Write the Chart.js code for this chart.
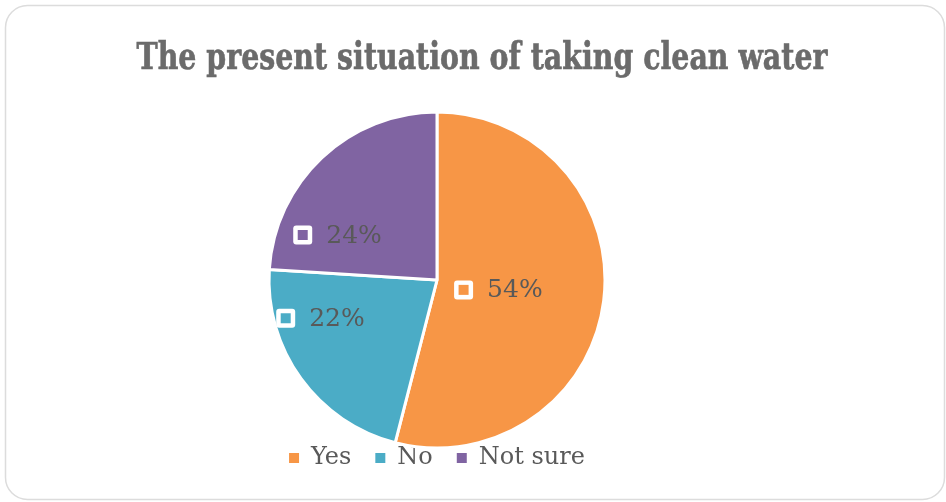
<!DOCTYPE html>
<html>
<head>
<meta charset="utf-8">
<title>Clean water</title>
<script src="https://cdn.jsdelivr.net/npm/chart.js@4.4.1/dist/chart.umd.min.js"></script>
<style>
  html, body { margin: 0; padding: 0; background: #fff; }
  #wrap { width: 946px; height: 502px; }
</style>
</head>
<body>
<div id="wrap"><canvas id="waterPie" width="946" height="502"></canvas></div>
<script>
// answers to "do you take clean water?"
var answers = ['Yes', 'No', 'Not sure'];
var shares = [54, 22, 24];
var sliceColors = ['#F79646', '#4BACC6', '#8064A2'];
var chartTitle = 'The present situation of taking clean water';

// where each value label sits inside its slice:
// t = fraction along the slice's sweep, f = fraction of the radius
var labelSpots = [
  { t: 0.51, f: 0.37 },
  { t: 0.725, f: 0.73 },
  { t: 0.24, f: 0.65 }
];

Chart.defaults.font.family = "'DejaVu Serif', serif";
Chart.defaults.color = '#595959';

// rounded frame + condensed title
var framePlugin = {
  id: 'frame',
  beforeDraw: function(chart) {
    var ctx = chart.ctx;
    ctx.save();
    ctx.strokeStyle = '#dcdcdc';
    ctx.lineWidth = 1.5;
    ctx.beginPath();
    ctx.roundRect(5.5, 5.5, 939, 494, 22);
    ctx.stroke();
    ctx.restore();
  },
  afterDraw: function(chart) {
    var ctx = chart.ctx;
    ctx.save();
    ctx.font = "bold 38px 'DejaVu Serif'";
    ctx.fillStyle = '#6b6b6b';
    ctx.strokeStyle = '#6b6b6b';
    ctx.lineWidth = 0.7;
    ctx.textBaseline = 'alphabetic';
    ctx.textAlign = 'center';
    var w = ctx.measureText(chartTitle).width;
    var sx = 691 / w;
    ctx.translate(482, 69);
    ctx.scale(sx, 1);
    ctx.fillText(chartTitle, 0, 0);
    ctx.strokeText(chartTitle, 0, 0);
    ctx.restore();
  }
};

// value labels with a small key square in front
var valueLabels = {
  id: 'valueLabels',
  afterDatasetsDraw: function(chart) {
    var ctx = chart.ctx;
    var meta = chart.getDatasetMeta(0);
    ctx.save();
    ctx.font = "25px 'DejaVu Serif'";
    ctx.textBaseline = 'middle';
    ctx.textAlign = 'left';
    meta.data.forEach(function(arc, i) {
      var p = arc.getProps(['x', 'y', 'startAngle', 'endAngle', 'outerRadius'], true);
      var spot = labelSpots[i];
      var a = p.startAngle + spot.t * (p.endAngle - p.startAngle);
      var cx = p.x + Math.cos(a) * p.outerRadius * spot.f;
      var cy = p.y + Math.sin(a) * p.outerRadius * spot.f;
      var text = shares[i] + '%';
      var tw = ctx.measureText(text).width;
      var box = 19, gap = 14;
      var left = cx - (box + gap + tw) / 2;
      ctx.fillStyle = '#ffffff';
      ctx.beginPath();
      ctx.roundRect(left, cy - box / 2, box, box, 3);
      ctx.fill();
      ctx.fillStyle = sliceColors[i];
      ctx.fillRect(left + 4.5, cy - box / 2 + 4.5, box - 9, box - 9);
      ctx.fillStyle = '#595959';
      ctx.fillText(text, left + box + gap, cy + 1);
    });
    ctx.restore();
  }
};

var ctx = document.getElementById('waterPie').getContext('2d');
var waterChart = new Chart(ctx, {
  type: 'pie',
  data: {
    labels: answers,
    datasets: [{
      data: shares,
      backgroundColor: sliceColors,
      borderColor: '#ffffff',
      borderWidth: 3,
      hoverOffset: 0,
      radius: 168,
      clip: false
    }]
  },
  options: {
    responsive: false,
    animation: false,
    devicePixelRatio: 1,
    layout: {
      padding: { top: 138, left: 0, right: 72, bottom: 22 }
    },
    plugins: {
      title: { display: false },
      tooltip: { enabled: false },
      legend: {
        position: 'bottom',
        labels: {
          boxWidth: 10,
          boxHeight: 10,
          padding: 24,
          color: '#595959',
          font: { size: 24 },
          // plain filled keys, without the white slice border
          generateLabels: function(chart) {
            var items = Chart.overrides.pie.plugins.legend.labels.generateLabels(chart);
            items.forEach(function(item) {
              item.lineWidth = 0;
              item.strokeStyle = item.fillStyle;
            });
            return items;
          }
        }
      }
    }
  },
  plugins: [framePlugin, valueLabels]
});
</script>
</body>
</html>
